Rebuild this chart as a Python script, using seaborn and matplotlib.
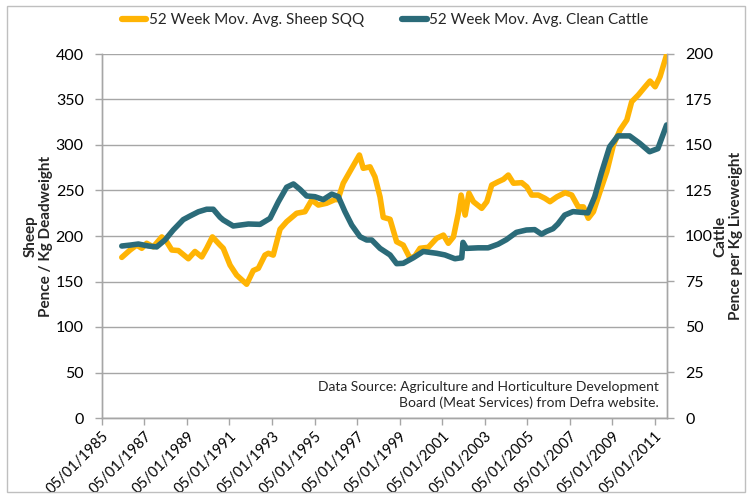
import numpy as np
import pandas as pd
import matplotlib
matplotlib.use("Agg")
import matplotlib.pyplot as plt
from matplotlib.patches import Rectangle
from matplotlib.lines import Line2D
import seaborn as sns

# ---------------- data ----------------
sheep_years = [1985.95, 1986.34, 1986.65, 1986.89, 1987.12, 1987.43, 1987.83, 1988.06,
               1988.30, 1988.61, 1989.08, 1989.39, 1989.71, 1989.94, 1990.21, 1990.57,
               1990.72, 1991.04, 1991.35, 1991.82, 1992.13, 1992.37, 1992.68, 1992.84,
               1993.07, 1993.39, 1993.70, 1994.17, 1994.56, 1994.88, 1995.19, 1995.58,
               1995.97, 1996.11, 1996.36, 1996.76, 1997.12, 1997.30, 1997.62, 1997.85,
               1998.09, 1998.24, 1998.56, 1998.87, 1999.18, 1999.50, 1999.73, 1999.97,
               2000.36, 2000.75, 2001.07, 2001.30, 2001.54, 2001.77, 2001.90, 2002.09,
               2002.27, 2002.48, 2002.87, 2003.11, 2003.34, 2003.65, 2003.89, 2004.12,
               2004.36, 2004.75, 2004.99, 2005.22, 2005.53, 2005.84, 2006.08, 2006.40,
               2006.79, 2007.10, 2007.41, 2007.65, 2007.88, 2008.12, 2008.43, 2008.75,
               2009.06, 2009.37, 2009.69, 2009.92, 2010.23, 2010.55, 2010.78, 2011.02,
               2011.25, 2011.56]
sheep_values = [176.5, 184.6, 190, 186.5, 192, 188, 199, 193.7,
                184.6, 184, 175, 183, 177, 186.5, 199, 190,
                186.5, 168, 157, 147, 162, 164.5, 179, 181,
                179, 207.5, 215.7, 225, 226.7, 239.6, 234, 236,
                240, 240, 258, 274.4, 289, 274.4, 276, 265,
                243, 220.5, 218.4, 193.7, 190, 175.5, 178, 186.5,
                187.6, 197.5, 201, 192, 199, 225, 245, 223,
                247, 237.7, 230.4, 237.7, 256, 259.7, 262.3, 267,
                258, 258.6, 254, 245, 245, 241.4, 237.7, 243,
                247.6, 245, 232, 232, 219.5, 226.7, 248.7, 270.7,
                300, 316.5, 327.5, 347.6, 355, 364, 370.3, 364,
                375, 399]

cattle_years = [1985.95, 1986.34, 1986.73, 1987.20, 1987.59, 1987.98, 1988.37, 1988.84,
                1989.16, 1989.55, 1989.94, 1990.25, 1990.57, 1990.72, 1991.19, 1991.90,
                1992.45, 1992.92, 1993.31, 1993.70, 1994.02, 1994.33, 1994.64, 1995.03,
                1995.42, 1995.82, 1996.13, 1996.44, 1996.76, 1997.15, 1997.46, 1997.70,
                1998.09, 1998.56, 1998.87, 1999.18, 1999.65, 2000.12, 2000.75, 2001.14,
                2001.61, 2001.89, 2001.93, 2001.99, 2002.15, 2002.70, 2003.17, 2003.64,
                2004.03, 2004.50, 2004.97, 2005.36, 2005.68, 2005.91, 2006.22, 2006.45,
                2006.77, 2007.16, 2007.86, 2008.18, 2008.49, 2008.88, 2009.27, 2009.82,
                2010.29, 2010.76, 2011.15, 2011.56]
cattle_values = [94.5, 95, 95.6, 94.5, 94, 97.8, 103.3, 109,
                 111, 113.3, 114.7, 114.7, 110.3, 108.8, 105.5, 106.6,
                 106.4, 109.7, 118.8, 126.8, 128.6, 125.6, 122, 121.6,
                 120, 123, 121.6, 113.4, 106, 99.6, 97.8, 97.8,
                 93.2, 89.6, 84.8, 85, 88, 91.5, 90.5, 89.6,
                 87.5, 88, 88, 96.5, 93.2, 93.5, 93.5, 95.5,
                 98, 102, 103.3, 103.5, 101, 102.5, 104, 106.6,
                 111.5, 113.4, 112.7, 121.6, 134.4, 149, 155, 155,
                 151, 146.3, 148, 161]

tick_years = list(range(1985, 2012, 2))
sheep_label = "52 Week Mov. Avg. Sheep SQQ"
cattle_label = "52 Week Mov. Avg. Clean Cattle"
left_title = "Sheep\nPence / Kg Deadweight"
right_title = "Cattle\nPence per Kg Liveweight"
note = "Data Source: Agriculture and Horticulture Development\nBoard (Meat Services) from Defra website."


def to_dates(years):
    base = pd.Timestamp("1985-01-01")
    return [base + pd.to_timedelta((y - 1985) * 365.25, unit="D") for y in years]


sheep_df = pd.DataFrame({"date": to_dates(sheep_years), "value": sheep_values})
cattle_df = pd.DataFrame({"date": to_dates(cattle_years), "value": cattle_values})

YELLOW = "#FFB404"
TEAL = "#2B6B79"
GRID = "#A6A6A6"

sns.set_theme(style="white")
plt.rcParams["font.family"] = ["Lato", "DejaVu Sans"]

fig = plt.figure(figsize=(7.52, 4.98), dpi=100)
ax = fig.add_axes([101.8 / 752, 1 - 418 / 498, (667 - 101.8) / 752, (418 - 54) / 498])
ax2 = ax.twinx()

sns.lineplot(data=sheep_df, x="date", y="value", ax=ax, color=YELLOW, lw=4.0,
             solid_capstyle="round", solid_joinstyle="round", zorder=3)
sns.lineplot(data=cattle_df, x="date", y="value", ax=ax2, color=TEAL, lw=4.0,
             solid_capstyle="round", solid_joinstyle="round", zorder=3)

ax.set_ylim(0, 400)
ax2.set_ylim(0, 200)
ax.set_yticks(np.arange(0, 401, 50))
ax2.set_yticks(np.arange(0, 201, 25))
ax.yaxis.grid(True, color=GRID, lw=1)
ax.set_axisbelow(True)
ax.set_xlim(pd.Timestamp("1985-01-05"), pd.Timestamp("2011-08-01"))
ticks = [pd.Timestamp(f"{y}-01-05") for y in tick_years]
ax.set_xticks(ticks)
ax.set_xticklabels([t.strftime("%d/%m/%Y") for t in ticks], rotation=45, ha="right",
                   rotation_mode="anchor", fontsize=10.5)
ax.set_xlabel("")
ax.set_ylabel("")
ax2.set_ylabel("")

for a in (ax, ax2):
    for s in a.spines.values():
        s.set_color(GRID)
        s.set_linewidth(1)
    a.spines["top"].set_visible(False)
ax.tick_params(axis="both", which="both", length=5, width=1, color=GRID,
               labelcolor="black", direction="out")
ax.tick_params(axis="y", labelsize=11.5, pad=8)
ax.tick_params(axis="x", pad=3)
ax2.tick_params(axis="y", length=5, width=1, color=GRID, labelsize=11.5,
                labelcolor="black", pad=8, direction="out")
ax.tick_params(left=True, bottom=True)
ax2.tick_params(right=True)

fig.text(0.051, 0.526, left_title, rotation=90, ha="center", va="center",
         fontsize=11, fontweight="bold", multialignment="center", linespacing=1.15)
fig.text(0.968, 0.526, right_title, rotation=90, ha="center", va="center",
         fontsize=11, fontweight="bold", multialignment="center", linespacing=1.15)

ax.text(0.985, 0.025, note, transform=ax.transAxes, ha="right", va="bottom",
        fontsize=10, linespacing=1.35)

handles = [Line2D([0], [0], color=YELLOW, lw=4.5, solid_capstyle="round"),
           Line2D([0], [0], color=TEAL, lw=4.5, solid_capstyle="round")]
fig.legend(handles, [sheep_label, cattle_label], loc="center", ncol=2,
           bbox_to_anchor=(385 / 752, 1 - 20 / 498), frameon=False, fontsize=11,
           handlelength=1.6, handletextpad=0.15, columnspacing=2.5)

fig.add_artist(Rectangle((7 / 752, 6 / 498), 738 / 752, 486 / 498, transform=fig.transFigure,
                         fill=False, edgecolor="#BFBFBF", lw=1))

fig.savefig("out.png", dpi=100)
